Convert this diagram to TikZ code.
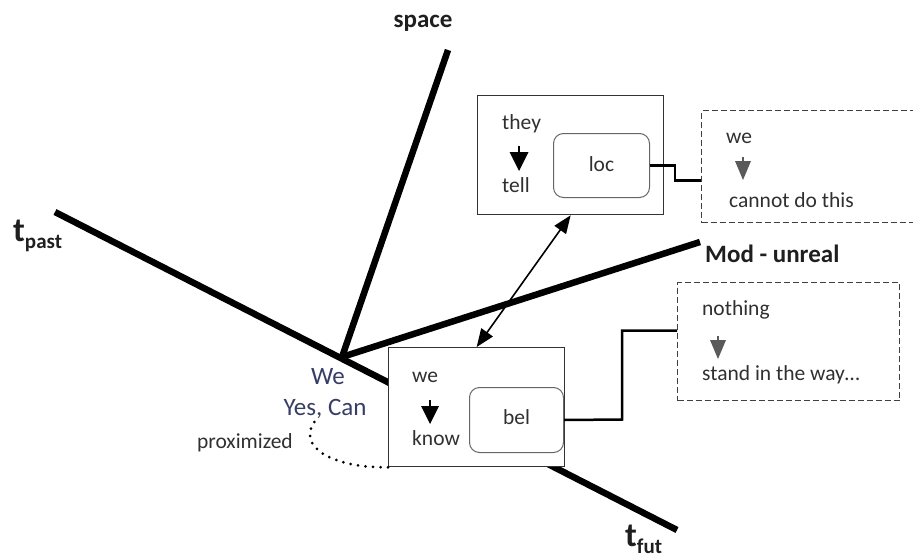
\documentclass[tikz,border=0pt]{standalone}
\usepackage{fontspec}
\setmainfont{Carlito}
\usetikzlibrary{arrows.meta,calc}
\definecolor{txt}{HTML}{303030}
\definecolor{wetxt}{HTML}{363D66}
\definecolor{headgray}{HTML}{5A5A5A}
\tikzset{
  axis/.style={line width=6.5pt, line cap=butt},
  frame/.style={draw=black!80, line width=1.3pt, fill=white, inner sep=0pt, anchor=north west},
  innerbox/.style={draw=black!60, line width=1pt, rounded corners=10pt, fill=white, inner sep=0pt, anchor=north west},
  dframe/.style={draw=black!75, line width=1pt, dash pattern=on 6pt off 3pt, fill=white, inner sep=0pt, anchor=north west},
  lbl/.style={text=txt, font=\fontsize{21.5}{24}\selectfont, inner sep=0pt},
  axlbl/.style={text=black!88, font=\fontsize{25}{28}\selectfont\bfseries, inner sep=0pt},
  link/.style={line width=2.5pt},
  dbl/.style={line width=1.6pt, {Triangle[length=18pt,width=14pt]}-{Triangle[length=18pt,width=14pt]}},
  dots/.style={line width=3pt, line cap=round, dash pattern=on 0pt off 7.5pt},
}
% downward arrow glyph: stem, then a filled head
% #1,#2: top of the stem; #3: colour; #4: stem length; #5: head width; #6: head height
\newcommand{\downhead}[6]{%
  \draw[#3, line width=1.3pt] (#1,#2) -- ++(0,#4+1);
  \fill[#3] (#1-#5/2,#2+#4) -- (#1+#5/2,#2+#4) -- (#1,#2+#4+#6) -- cycle;
}
\begin{document}
\begin{tikzpicture}[x=1pt,y=-1pt]
\useasboundingbox (0,0) rectangle (913,557);
\clip (0,0) rectangle (913,557);

% axes
\coordinate (O) at (342,357);
\coordinate (past) at (55,212);
\coordinate (fut) at (677,530);
\coordinate (spc) at (448,50);
\coordinate (mod) at (700,242);
\draw[axis] (past) -- (fut);
\draw[axis] (O) -- (spc);
\draw[axis] (O) -- (mod);

% axis labels
\node[axlbl, anchor=base] (spacelbl) at (423,27) {space};
\node[axlbl, anchor=base west] (modlbl) at (705,262) {Mod - unreal};
\node[anchor=base west, inner sep=0pt, text=black!88] (tpast) at (13,241)
  {\fontsize{34}{34}\selectfont\bfseries t\raisebox{-7pt}{\fontsize{21}{21}\selectfont past}};
\node[anchor=base west, inner sep=0pt, text=black!88] (tfut) at (625,546)
  {\fontsize{34}{34}\selectfont\bfseries t\raisebox{-7pt}{\fontsize{21}{21}\selectfont fut}};

% upper frame: they tell loc
\node[frame, minimum width=186pt, minimum height=119pt] (cbox) at (477,95) {};
\node[innerbox, minimum width=96pt, minimum height=64pt] (loc) at (553,133) {};
\node[lbl, anchor=base] at (loc.center |- 0,171) {loc};
\node[lbl, anchor=base west] (they) at (502,129) {they};
\node[lbl, anchor=base west] (tell) at (502,192) {tell};
\downhead{519}{146}{black}{6}{19}{19}

% lower frame: we know bel
\node[frame, minimum width=176pt, minimum height=119pt] (kbox) at (388,347) {};
\node[innerbox, minimum width=94pt, minimum height=65pt] (bel) at (469,387) {};
\node[lbl, anchor=base] at (bel.center |- 0,424) {bel};
\node[lbl, anchor=base west] (we2) at (412,382) {we};
\node[lbl, anchor=base west] (know) at (412,445) {know};
\downhead{430}{400}{black}{6}{18}{18}

% dashed frames
\node[dframe, minimum width=240pt, minimum height=112pt] (d1) at (701,110) {};
\node[lbl, anchor=base west] (we1) at (726,143) {we};
\node[lbl, anchor=base west] (cannot) at (729,207) {cannot do this};
\downhead{743}{157}{headgray}{4}{16}{19}

\node[dframe, minimum width=222pt, minimum height=118pt] (d2) at (677,282) {};
\node[lbl, anchor=base west] (nothing) at (702,315) {nothing};
\node[lbl, anchor=base west] (stand) at (702,380) {stand in the way\ldots};
\downhead{718}{336}{headgray}{4}{16}{19}

% connectors
\draw[link] (loc.east) -- ++(25,0) |- ($(d1.west)+(0,14)$);
\draw[link] (bel.east) -- (622,419.5) |- ($(d2.west)+(0,-11)$);
\draw[dbl] (kbox.north) -- (cbox.south);

% speaker labels
\node[text=wetxt, font=\fontsize{25}{28}\selectfont, inner sep=0pt, anchor=base] (we0) at (328,384) {We};
\node[text=wetxt, font=\fontsize{25}{28}\selectfont, inner sep=0pt, anchor=base] (yes) at (325,415) {Yes, Can};
\node[lbl, anchor=base east] (prox) at (293,448) {proximized};
\coordinate (dotend) at (316,420);
\draw[dots] (kbox.south west) .. controls (330,468) and (295,445) .. (dotend);
\end{tikzpicture}
\end{document}
